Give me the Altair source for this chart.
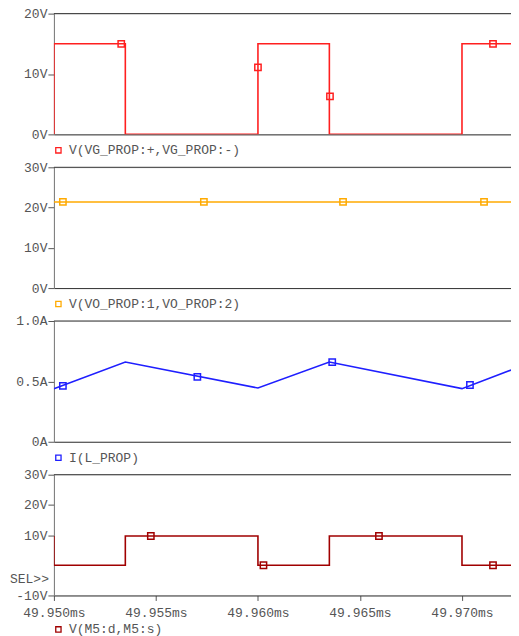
import altair as alt
import pandas as pd

# ---- data ----
T_DOMAIN = [49.950, 49.9725]
T_TICKS = [49.950, 49.955, 49.960, 49.965, 49.970]

# Panel 1: V(VG_PROP:+,VG_PROP:-)
vg_t = [49.950, 49.950, 49.9535, 49.9535, 49.960, 49.960, 49.9635, 49.9635, 49.970, 49.970, 49.9725]
vg_v = [0, 15, 15, 0, 0, 15, 15, 0, 0, 15, 15]
vg_mt = [49.9533, 49.9600, 49.96353, 49.97152]
vg_mv = [15, 11.1, 6.3, 15]

# Panel 2: V(VO_PROP:1,VO_PROP:2)
vo_t = [49.950, 49.9725]
vo_v = [21.4, 21.4]
vo_mt = [49.95044, 49.95735, 49.96417, 49.97108]
vo_mv = [21.4, 21.4, 21.4, 21.4]

# Panel 3: I(L_PROP)
il_t = [49.950, 49.9535, 49.960, 49.9635, 49.970, 49.9725]
il_v = [0.44, 0.66, 0.445, 0.66, 0.44, 0.60]
il_mt = [49.95044, 49.95703, 49.96364, 49.97039]
il_mv = [0.463, 0.537, 0.66, 0.47]

# Panel 4: V(M5:d,M5:s)
m5_t = [49.950, 49.950, 49.9535, 49.9535, 49.960, 49.960, 49.9635, 49.9635, 49.970, 49.970, 49.9725]
m5_v = [9.7, 0, 0, 9.7, 9.7, 0, 0, 9.7, 9.7, 0, 0]
m5_mt = [49.95475, 49.96027, 49.96593, 49.97152]
m5_mv = [9.7, 0, 9.7, 0]

FONT = "Liberation Mono"
W, H = 460, 121


def panel(t, v, mt, mv, color, ydomain, yticks, ylabel_expr, legend, bottom=False, sel=False):
    line_df = pd.DataFrame({"t": t, "v": v, "i": list(range(len(t)))})
    mark_df = pd.DataFrame({"t": mt, "v": mv})

    if bottom:
        xaxis = alt.Axis(values=T_TICKS, labelExpr="format(datum.value, '.3f') + 'ms'",
                         labelFlush=False, labelOverlap=False, title=None, grid=False,
                         domainColor="#333", tickColor="#555", tickSize=5, labelPadding=6,
                         labelFont=FONT, labelFontSize=13, labelColor="#555")
    else:
        xaxis = alt.Axis(labels=False, ticks=False, title=None, grid=False, domainColor="#333")

    yaxis = alt.Axis(values=yticks, labelExpr=ylabel_expr, title=None, grid=False,
                     domainColor="#777", tickColor="#555", tickSize=6, labelPadding=1,
                     labelFont=FONT, labelFontSize=13, labelColor="#555", labelOverlap=False)

    x = alt.X("t:Q", scale=alt.Scale(domain=T_DOMAIN, nice=False, zero=False), axis=xaxis)
    y = alt.Y("v:Q", scale=alt.Scale(domain=ydomain, nice=False, zero=False), axis=yaxis)

    line = alt.Chart(line_df).mark_line(color=color, strokeWidth=1.6, clip=True).encode(
        x=x, y=y, order="i:Q")
    pts = alt.Chart(mark_df).mark_point(shape="square", filled=False, size=40,
                                        strokeWidth=1.5, color=color, opacity=1).encode(
        x="t:Q", y="v:Q")
    one = pd.DataFrame({"a": [0]})
    top = alt.Chart(one).mark_rule(color="#333", strokeWidth=1).encode(
        x=alt.value(0), x2=alt.value(W), y=alt.value(0))
    ly = H + (34 if bottom else 16)
    lmark = alt.Chart(one).mark_point(shape="square", filled=False, size=28, strokeWidth=1.3,
                                      color=color, opacity=1).encode(
        x=alt.value(4.5), y=alt.value(ly))
    ltext = alt.Chart(one).mark_text(text=legend, font=FONT, fontSize=13, color="#555",
                                     align="left", baseline="middle").encode(
        x=alt.value(15), y=alt.value(ly))
    layers = [top, line, pts, lmark, ltext]
    if sel:
        seldf = pd.DataFrame({"v": [-4.7]})
        layers.append(alt.Chart(seldf).mark_text(text="SEL>>", font=FONT, fontSize=13,
                                                 color="#555", align="right",
                                                 baseline="middle").encode(
            x=alt.value(-5), y="v:Q"))
    return alt.layer(*layers).properties(width=W, height=H)


p1 = panel(vg_t, vg_v, vg_mt, vg_mv, "#ff1f1f", [0, 20], [0, 10, 20],
           "datum.value + 'V'", "V(VG_PROP:+,VG_PROP:-)")
p2 = panel(vo_t, vo_v, vo_mt, vo_mv, "#ffaa00", [0, 30], [0, 10, 20, 30],
           "datum.value + 'V'", "V(VO_PROP:1,VO_PROP:2)")
p3 = panel(il_t, il_v, il_mt, il_mv, "#1f1fff", [0, 1], [0, 0.5, 1.0],
           "datum.value == 0 ? '0A' : format(datum.value, '.1f') + 'A'", "I(L_PROP)")
p4 = panel(m5_t, m5_v, m5_mt, m5_mv, "#a00000", [-10, 30], [-10, 10, 20, 30],
           "datum.value + 'V'", "V(M5:d,M5:s)", bottom=True, sel=True)

chart = alt.vconcat(p1, p2, p3, p4, spacing=33, bounds="flush").properties(
    padding={"left": 1, "top": -2, "right": -3, "bottom": -2}
).configure_view(stroke=None).configure(background="white")

chart.save("out.html", embed_options={"renderer": "svg", "actions": False})
